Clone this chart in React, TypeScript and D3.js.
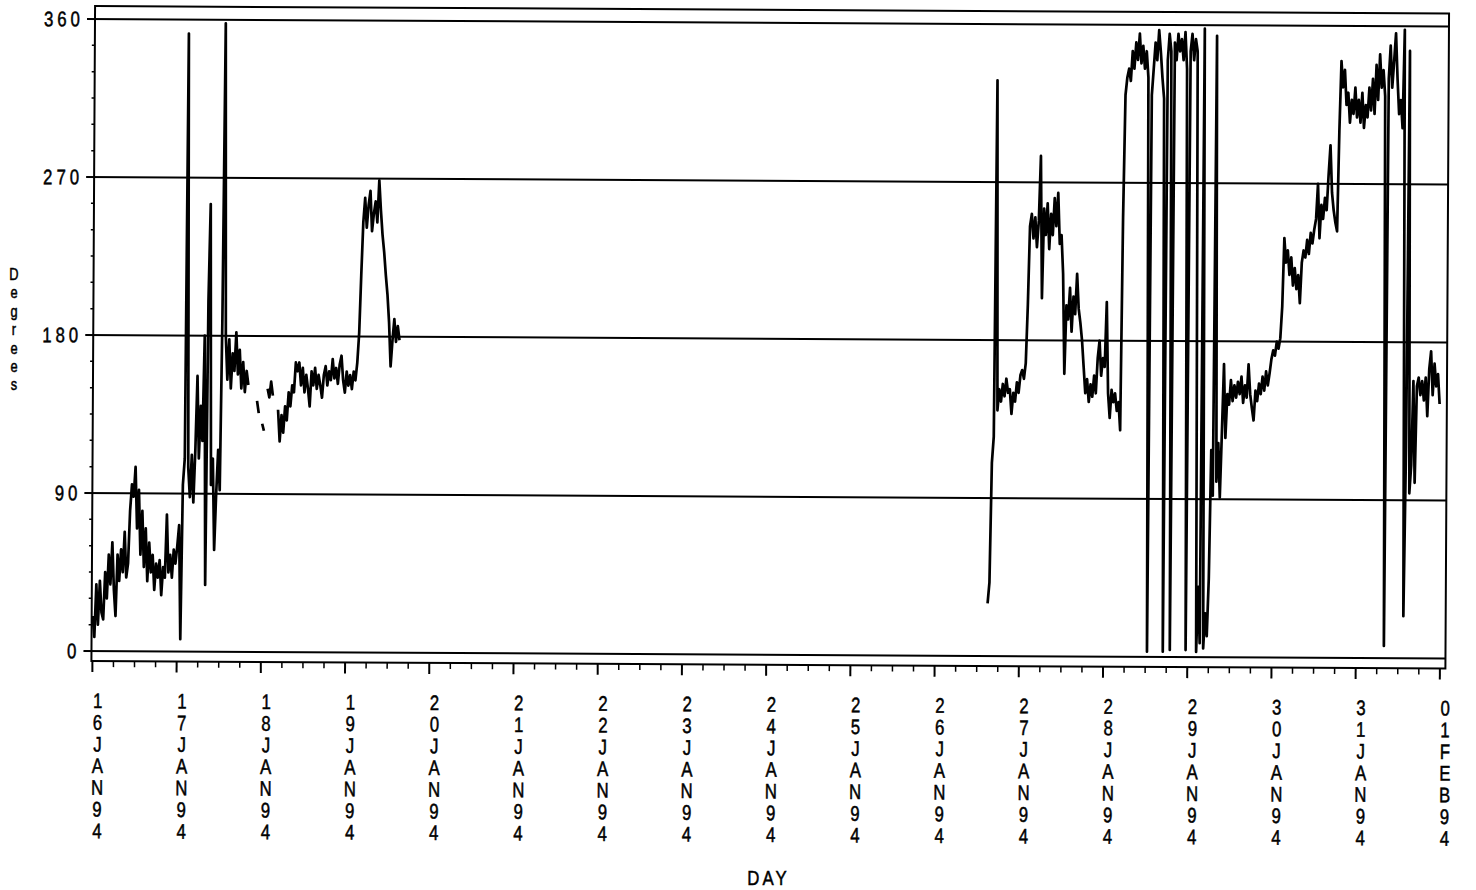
import * as d3 from 'd3'
import { FC } from 'react'

type Reading = { t: Date, v: number | null }

// tick labels on the DAY axis, one per midnight
const dayLabels = [
    '16JAN94', '17JAN94', '18JAN94', '19JAN94', '20JAN94', '21JAN94',
    '22JAN94', '23JAN94', '24JAN94', '25JAN94', '26JAN94', '27JAN94',
    '28JAN94', '29JAN94', '30JAN94', '31JAN94', '01FEB94',
]
const yTicks = [0, 90, 180, 270, 360]

// direction in degrees, one reading every 30 minutes, null = no reading
const jan16 = [20, 8, 38, 15, 40, 22, 18, 45, 30, 55, 38, 62, 35, 20, 55, 40, 58, 45, 68, 42, 50, 80, 95, 88, 105, 70, 92, 55, 80, 48, 70, 40, 62, 45, 55, 35, 50, 42, 52, 32, 48, 42, 78, 45, 55, 42, 58, 50]
const jan17 = [60, 72, 7, 95, 110, 352, 105, 88, 112, 85, 115, 157, 110, 140, 120, 180, 38, 200, 255, 95, 110, 58, 90, 115, 92, 190, 358, 180, 155, 178, 150, 170, 160, 182, 158, 172, 150, 165, 148, 160, 152, null, null, null, null, 143, 136, null]
const jan18 = [130, 126, null, 150, 145, 154, 146, null, null, 138, 120, 135, 125, 140, 132, 148, 140, 152, 148, 165, 160, 165, 152, 162, 148, 158, 150, 140, 160, 152, 162, 150, 158, 152, 145, 158, 163, 152, 160, 155, 167, 156, 162, 153, 164, 169, 155, 148]
const jan19 = [160, 152, 158, 150, 160, 155, 165, 182, 215, 245, 259, 242, 255, 263, 240, 250, 257, 245, 269, 252, 238, 228, 215, 204, 188, 163, 178, 190, 177, 186, 178]

// second run starts 26JAN94 15:00
const jan26 = [30, 42, 110, 125, 328, 140, 152, 145, 155, 148, 158, 150, 152, 138, 150, 145, 156, 150]
const jan27 = [160, 163, 158, 167, 200, 245, 252, 238, 250, 233, 248, 285, 204, 255, 240, 258, 232, 252, 240, 261, 245, 264, 235, 240, 218, 161, 200, 192, 210, 185, 205, 195, 218, 198, 190, 180, 165, 150, 158, 145, 155, 148, 160, 150, 170, 180, 160, 170]
const jan28 = [165, 202, 150, 136, 152, 145, 150, 140, 145, 129, 250, 320, 330, 335, 328, 345, 335, 350, 340, 355, 338, 348, 335, 345, 330, 3, 320, 335, 350, 340, 357, 345, 330, 318, 3, 340, 355, 345, 4, 350, 340, 355, 345, 352, 340, 356, 335, 4]
const jan29 = [345, 355, 340, 352, 345, 3, 40, 8, 358, 5, 25, 12, 45, 118, 92, 354, 100, 122, 91, 128, 167, 125, 150, 144, 158, 146, 155, 148, 157, 150, 160, 145, 155, 148, 167, 150, 142, 135, 152, 146, 156, 150, 160, 152, 163, 155, 162, 170]
const jan30 = [175, 172, 180, 176, 182, 200, 239, 225, 232, 218, 228, 212, 222, 210, 218, 202, 225, 232, 228, 238, 230, 242, 236, 244, 250, 270, 239, 258, 250, 262, 255, 275, 292, 265, 255, 248, 243, 300, 340, 325, 335, 315, 322, 305, 318, 310, 325, 308]
const jan31 = [318, 305, 322, 302, 315, 308, 325, 312, 330, 310, 338, 318, 344, 325, 335, 320, 7, 330, 349, 325, 340, 356, 330, 310, 318, 302, 358, 24, 120, 346, 94, 110, 158, 100, 155, 160, 150, 158, 147, 160, 138, 165, 175, 150, 168, 155, 162, 145]

const run1Start = Date.UTC(1994, 0, 16, 0)
const run2Start = Date.UTC(1994, 0, 26, 15)
const HALF_HOUR = 30 * 60 * 1000

const toReadings = (start: number, values: (number | null)[]): Reading[] =>
    values.map((v, i) => ({ t: new Date(start + i * HALF_HOUR), v }))

const run1 = toReadings(run1Start, [...jan16, ...jan17, ...jan18, ...jan19])
const run2 = toReadings(run2Start, [...jan26, ...jan27, ...jan28, ...jan29, ...jan30, ...jan31])

const FONT = "'Liberation Sans', Arial, sans-serif"

// squeeze text horizontally about cx, the plotter font is a narrow one
const narrow = (cx: number, k = 0.8) => `translate(${cx} 0) scale(${k} 1) translate(${-cx} 0)`

const App: FC = () => {
    const width = 1476
    const height = 890
    const frame = { left: 95, right: 1449, top: 6, bottom: 661 }

    const start = new Date(Date.UTC(1994, 0, 16))
    const end = new Date(Date.UTC(1994, 1, 1))

    const x = d3.scaleUtc().domain([start, end]).range([96, 1443.5])
    const y = d3.scaleLinear().domain([0, 360]).range([651, 19])

    const majorDays = d3.utcDay.range(start, d3.utcDay.offset(end, 1))
    const minorHours = d3.utcHour.every(6)!.range(start, end).filter(d => d.getUTCHours() !== 0)
    const yMinor = d3.range(0, 361, 15).filter(v => v % 90 !== 0)

    const line = d3.line<Reading>()
        .defined(d => d.v !== null)
        .x(d => x(d.t))
        .y(d => y(d.v as number))

    const textStyle = { fontFamily: FONT, fill: '#000', stroke: '#000', strokeWidth: 0.5 }

    return (
        <svg
            width={width}
            height={height}
            style={{ position: 'absolute', left: 0, top: 0, background: '#fff' }}
        >
            <rect width={width} height={height} fill="#fff" />
            {/* the scanned page sits a little askew */}
            <g transform="rotate(0.32 93 19)">
                {/* frame */}
                <rect
                    x={frame.left}
                    y={frame.top}
                    width={frame.right - frame.left}
                    height={frame.bottom - frame.top}
                    fill="none"
                    stroke="#000"
                    strokeWidth={2}
                />
                {/* reference lines */}
                {yTicks.map(v => (
                    <line key={v} x1={frame.left - 8} x2={frame.right} y1={y(v)} y2={y(v)} stroke="#000" strokeWidth={2} />
                ))}
                {yMinor.map(v => (
                    <line key={v} x1={frame.left - 3} x2={frame.left} y1={y(v)} y2={y(v)} stroke="#000" strokeWidth={1.5} />
                ))}
                <g transform={narrow(80)}>
                    {yTicks.map(v => (
                        <text
                            key={v}
                            x={85}
                            y={y(v) + 7.5}
                            textAnchor="end"
                            fontSize={21}
                            letterSpacing={5}
                            style={textStyle}
                        >
                            {v}
                        </text>
                    ))}
                </g>

                {/* DAY axis ticks */}
                {majorDays.map((d, i) => (
                    <line key={i} x1={x(d)} x2={x(d)} y1={frame.bottom} y2={frame.bottom + 11} stroke="#000" strokeWidth={2} />
                ))}
                {minorHours.map((d, i) => (
                    <line key={i} x1={x(d)} x2={x(d)} y1={frame.bottom} y2={frame.bottom + 6} stroke="#000" strokeWidth={1.5} />
                ))}
                {majorDays.map((d, i) => (
                    <text
                        key={i}
                        transform={narrow(x(d) + 5.5)}
                        textAnchor="middle"
                        fontSize={21}
                        style={textStyle}
                    >
                        {dayLabels[i].split('').map((c, j) => (
                            <tspan key={j} x={x(d) + 5.5} y={708 + j * 21.7}>{c}</tspan>
                        ))}
                    </text>
                ))}

                {/* the series */}
                {[run1, run2].map((run, i) => (
                    <path
                        key={i}
                        d={line(run) ?? ''}
                        fill="none"
                        stroke="#000"
                        strokeWidth={2.7}
                        strokeLinejoin="round"
                    />
                ))}
            </g>

            {/* axis titles */}
            <text transform={narrow(14)} fontSize={16} textAnchor="middle" style={textStyle}>
                {'Degrees'.split('').map((c, j) => (
                    <tspan key={j} x={14} y={280 + j * 18.4}>{c}</tspan>
                ))}
            </text>
            <text
                transform={narrow(767)}
                x={769}
                y={885}
                textAnchor="middle"
                fontSize={21}
                letterSpacing={4}
                style={textStyle}
            >
                DAY
            </text>
        </svg>
    )
}

export default App
